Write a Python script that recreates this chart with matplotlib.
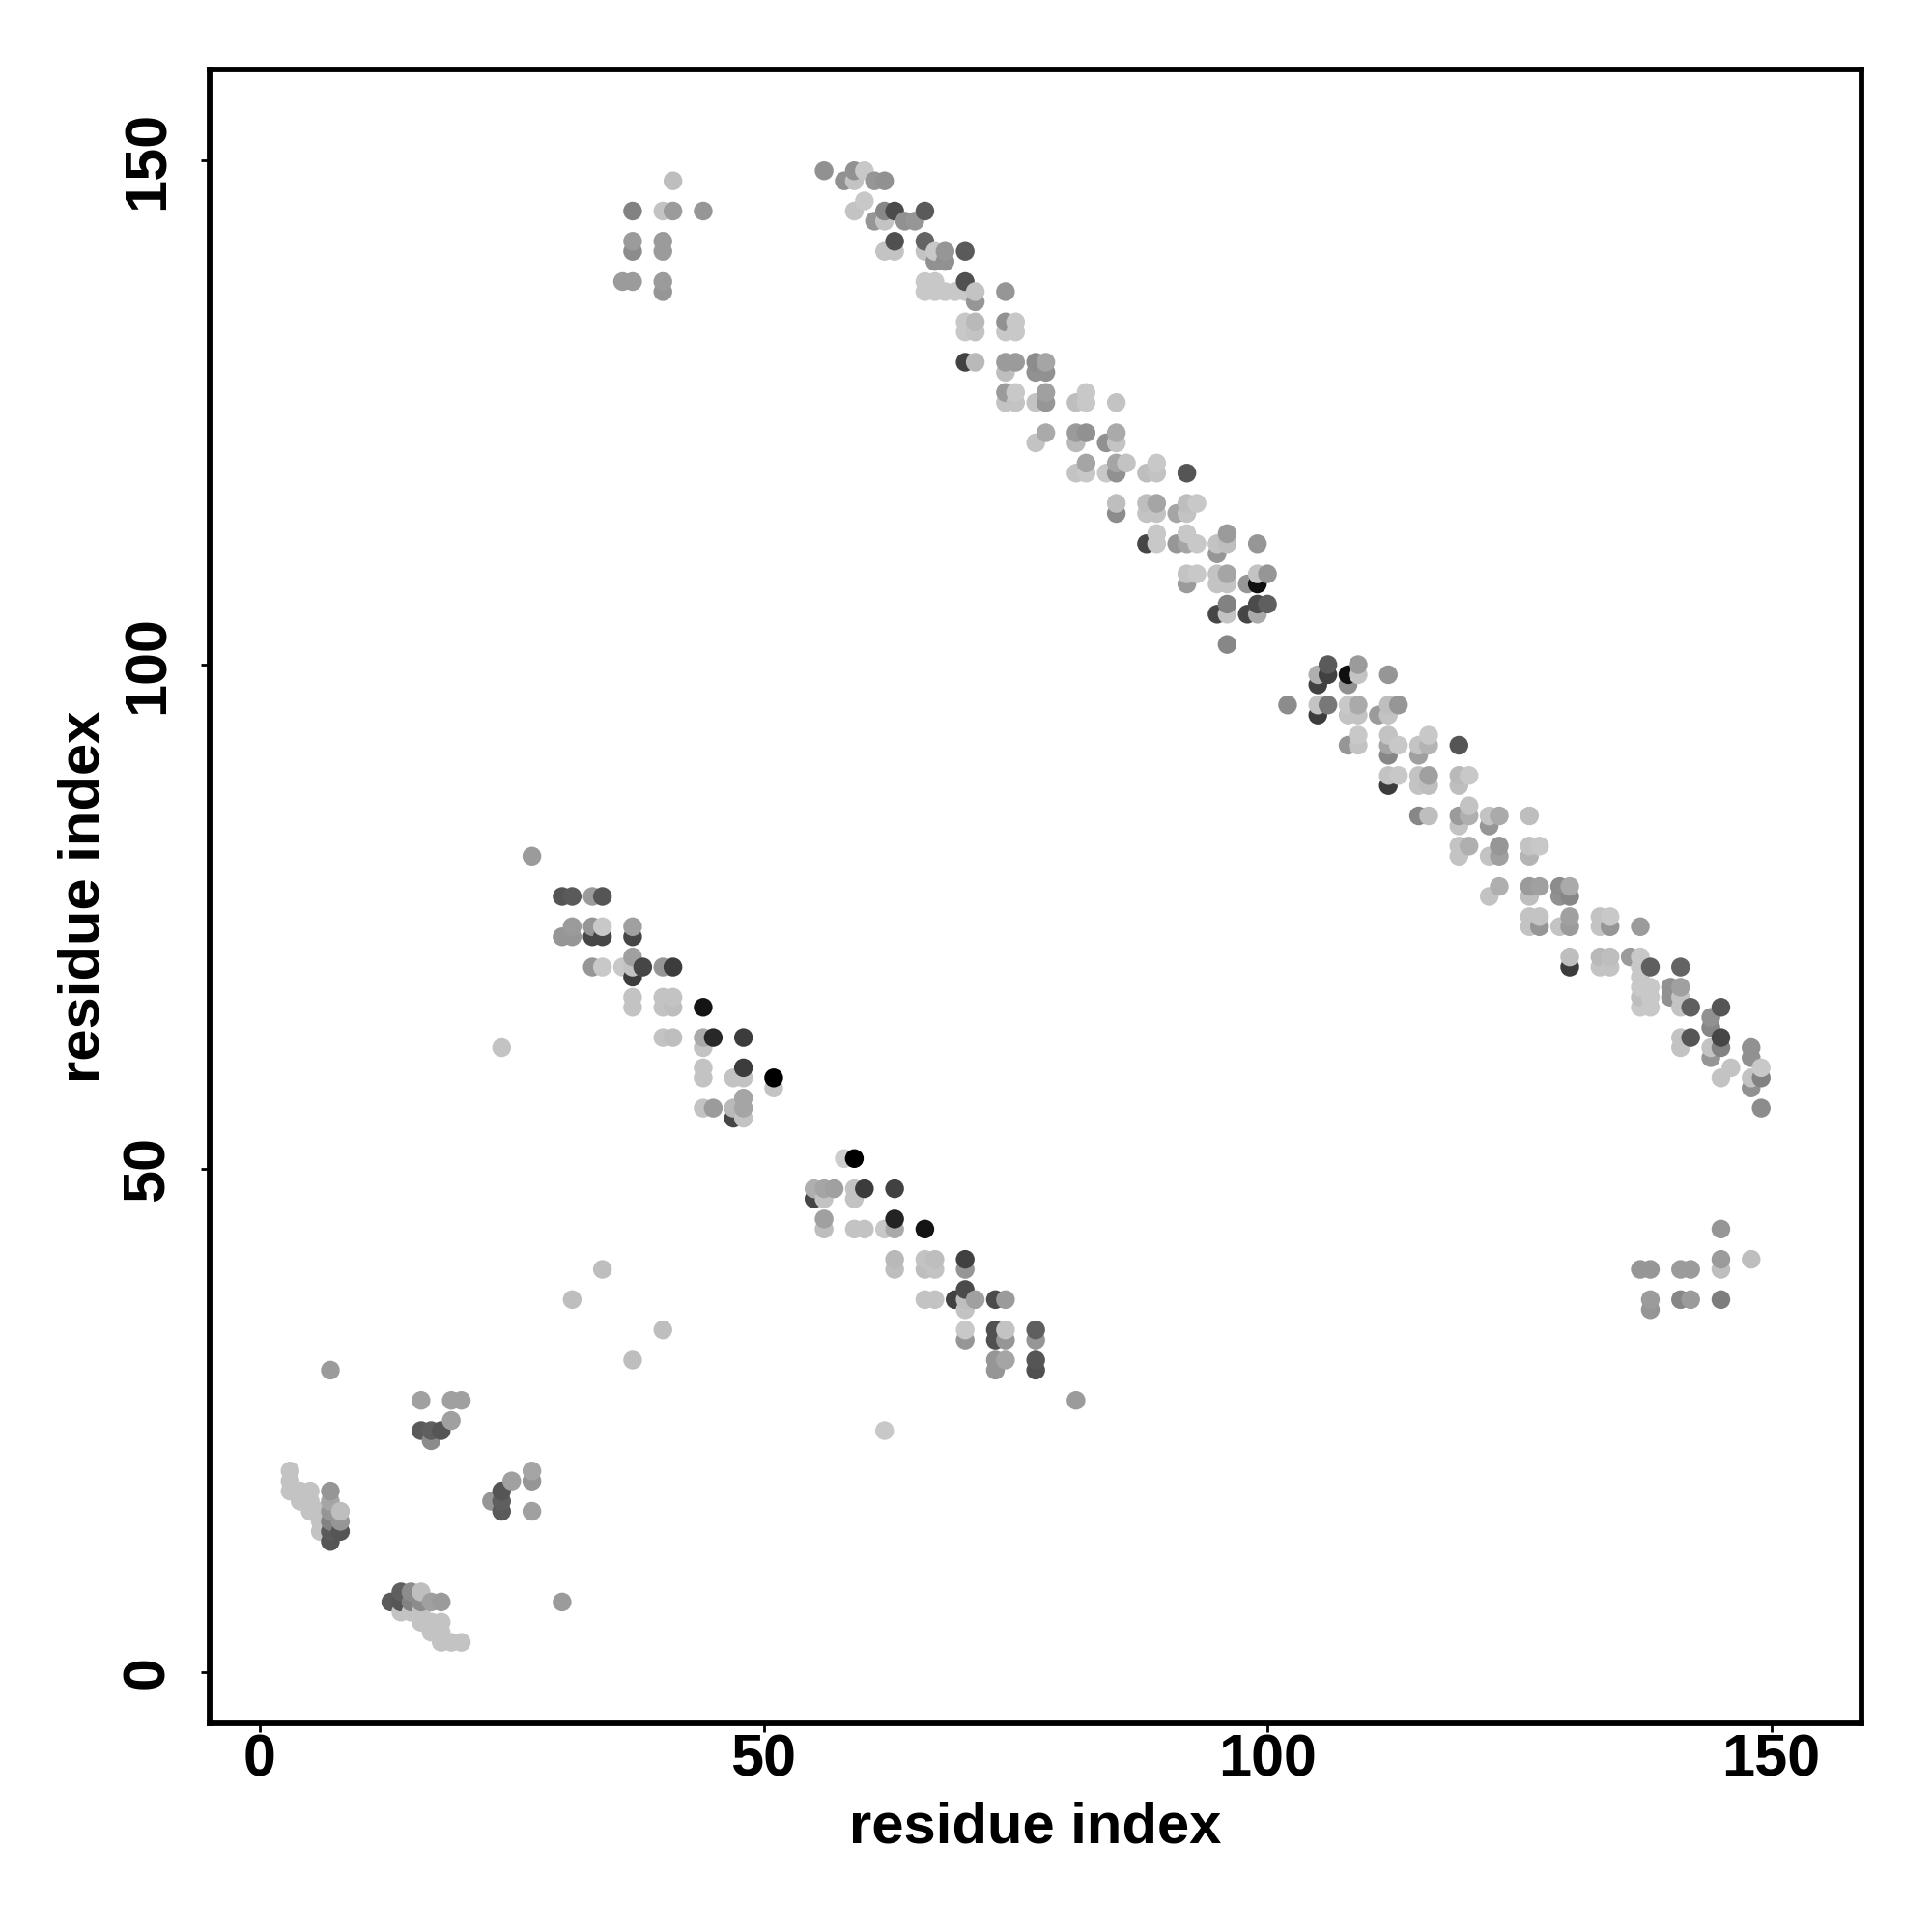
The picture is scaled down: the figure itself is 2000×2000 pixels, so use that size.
import numpy as np
import matplotlib
matplotlib.use("Agg")
import matplotlib.pyplot as plt

plt.rcParams['font.family'] = ['Liberation Sans', 'DejaVu Sans']

# one row per y residue: y, x residues, grey level of each point
row_y = [149, 148, 146, 145, 144, 142, 141, 140, 138, 137, 136, 134, 133, 130, 129, 127, 126, 123, 122, 120, 119,
         116, 115, 113, 112, 111, 109, 108, 106, 105, 102, 100, 99, 98, 96, 95, 93, 92, 91, 89, 88, 86, 85, 84,
         82, 81, 78, 77, 75, 74, 73, 71, 70, 69, 68, 67, 66, 65, 64, 63, 62, 61, 60, 59, 58, 57, 56, 55, 51,
         48, 47, 45, 44, 41, 40, 38, 37, 36, 34, 33, 31, 30, 27, 25, 24, 23, 20, 19, 18, 17, 16, 15, 14, 13,
         8, 7, 6, 5, 4, 3]
row_x = [
    [56, 59, 60],
    [41, 58, 59, 61, 62],
    [60],
    [37, 40, 41, 44, 59, 62, 63, 66],
    [61, 62, 64, 65],
    [37, 40, 63, 66],
    [37, 40, 62, 63, 66, 67, 68, 70],
    [67, 68],
    [36, 37, 40, 66, 67, 70],
    [40, 66, 67, 68, 69, 70, 71, 74],
    [71],
    [70, 71, 74, 75],
    [70, 71, 74, 75],
    [70, 71, 74, 75, 77, 78],
    [74, 77, 78],
    [74, 75, 78, 82],
    [74, 75, 77, 78, 81, 82, 85],
    [78, 81, 82, 85],
    [77, 81, 84, 85],
    [82, 85, 86, 89],
    [81, 82, 84, 85, 88, 89, 92],
    [85, 88, 89, 92, 93],
    [85, 88, 89, 91, 92],
    [89, 92, 96],
    [88, 89, 91, 92, 93, 95, 96, 99],
    [95],
    [92, 93, 95, 96, 99, 100],
    [92, 95, 96, 98, 99],
    [96, 99, 100],
    [95, 96, 98, 99],
    [96],
    [106, 109],
    [105, 106, 108, 109, 112],
    [105, 108],
    [102, 105, 106, 108, 109, 112, 113],
    [105, 108, 109, 111, 112],
    [109, 112, 116],
    [108, 109, 112, 113, 115, 116, 119],
    [112, 115],
    [112, 113, 115, 116, 119, 120],
    [112, 115, 116, 119],
    [120],
    [115, 116, 119, 120, 122, 123, 126],
    [119, 122],
    [119, 120, 123, 126, 127],
    [27, 119, 122, 123, 126],
    [123, 126, 127, 129, 130],
    [30, 31, 33, 34, 122, 126, 129, 130],
    [126, 127, 130, 133, 134],
    [31, 33, 34, 37, 126, 127, 129, 130, 133, 134, 137],
    [30, 31, 33, 34, 37],
    [37, 130, 133, 134, 136, 137],
    [33, 34, 36, 37, 38, 40, 41, 130, 133, 134, 137, 138, 141],
    [37, 137],
    [137, 138, 140, 141],
    [37, 40, 41, 137, 138, 140, 141],
    [37, 40, 41, 44, 137, 138, 141, 142, 145],
    [144],
    [144],
    [40, 41, 44, 45, 48, 141, 142, 145],
    [24, 44, 141, 144, 145, 148],
    [144, 148],
    [44, 48, 146, 149],
    [44, 47, 48, 51, 145, 148, 149],
    [51, 148],
    [48],
    [44, 45, 47, 48, 149],
    [47, 48],
    [58, 59],
    [55, 56, 57, 59, 60, 63],
    [55, 56, 59],
    [56, 63],
    [56, 59, 60, 62, 63, 66, 145],
    [63, 66, 67, 70, 145, 148],
    [34, 63, 66, 67, 70, 137, 138, 141, 142, 145],
    [70],
    [31, 66, 67, 69, 70, 71, 73, 74, 138, 141, 142, 145],
    [70, 138],
    [40, 70, 73, 74, 77],
    [70, 73, 74, 77],
    [37, 73, 74, 77],
    [7, 73, 77],
    [16, 19, 20, 81],
    [19],
    [16, 17, 18, 62],
    [17],
    [3, 27],
    [3, 25, 27],
    [3, 4, 5, 7, 24],
    [4, 5, 7, 23, 24],
    [5, 6, 7, 8, 24, 27],
    [6, 7, 8],
    [6, 7, 8],
    [7],
    [14, 15, 16],
    [13, 14, 15, 16, 17, 18, 30],
    [14, 15, 16],
    [16, 17, 18],
    [17, 18],
    [18, 19, 20],
]
row_shade = [
    [145, 145, 200],
    [190, 145, 195, 150, 145],
    [200],
    [130, 195, 155, 150, 195, 135, 75, 90],
    [150, 195, 145, 150],
    [155, 155, 80, 100],
    [140, 155, 195, 195, 195, 200, 150, 90],
    [145, 145],
    [155, 155, 155, 200, 200, 80],
    [150, 200, 200, 200, 200, 200, 195, 150],
    [150],
    [200, 185, 145, 200],
    [200, 195, 200, 200],
    [65, 185, 155, 155, 140, 165],
    [190, 145, 145],
    [155, 200, 160, 200],
    [195, 195, 195, 150, 190, 200, 195],
    [170, 155, 145, 170],
    [195, 185, 145, 195],
    [165, 165, 195, 200],
    [195, 200, 200, 145, 190, 195, 85],
    [190, 190, 165, 190, 200],
    [140, 195, 195, 165, 195],
    [200, 200, 155],
    [70, 200, 150, 165, 200, 195, 190, 150],
    [150],
    [195, 200, 195, 165, 195, 150],
    [155, 195, 195, 150, 15],
    [130, 75, 95],
    [70, 195, 70, 170],
    [135],
    [90, 155],
    [175, 65, 15, 195, 150],
    [65, 145],
    [140, 195, 120, 200, 170, 190, 150],
    [60, 195, 195, 155, 195],
    [200, 195, 200],
    [150, 195, 165, 200, 195, 180, 85],
    [135, 160],
    [195, 200, 195, 160, 185, 200],
    [60, 195, 190, 190],
    [195],
    [135, 190, 155, 175, 195, 170, 190],
    [195, 150],
    [195, 175, 150, 195, 200],
    [155, 195, 195, 160, 180],
    [175, 155, 160, 140, 170],
    [85, 90, 155, 85, 195, 190, 145, 135],
    [195, 195, 160, 195, 200],
    [155, 150, 200, 160, 195, 150, 195, 155, 195, 150, 155],
    [150, 150, 70, 70, 70],
    [160, 190, 185, 190, 155, 200],
    [150, 200, 200, 195, 70, 150, 60, 60, 195, 195, 200, 95, 100],
    [60, 200],
    [200, 200, 145, 160],
    [195, 195, 195, 190, 200, 145, 195],
    [195, 195, 190, 20, 200, 200, 195, 95, 85],
    [145],
    [135],
    [195, 190, 170, 40, 60, 195, 85, 70],
    [195, 195, 195, 195, 130, 145],
    [150, 145],
    [195, 60, 195, 200],
    [195, 195, 195, 0, 195, 195, 130],
    [195, 145],
    [165],
    [195, 155, 185, 165, 140],
    [70, 195],
    [205, 0],
    [175, 165, 160, 195, 60, 65],
    [70, 195, 195],
    [160, 35],
    [190, 195, 195, 200, 170, 20, 150],
    [185, 195, 190, 65, 155, 190],
    [190, 190, 190, 195, 150, 150, 150, 155, 155, 190],
    [75],
    [190, 195, 195, 65, 190, 160, 75, 155, 155, 135, 155, 125],
    [195, 150],
    [190, 200, 80, 195, 95],
    [150, 80, 150, 150],
    [190, 150, 165, 85],
    [155, 150, 80],
    [160, 160, 160, 155],
    [160],
    [90, 95, 85, 200],
    [140],
    [195, 165],
    [195, 160, 150],
    [195, 195, 195, 150, 85],
    [195, 195, 165, 150, 95],
    [195, 195, 150, 190, 90, 160],
    [195, 130, 150],
    [195, 90, 85],
    [85],
    [95, 140, 190],
    [90, 85, 130, 140, 160, 155, 155],
    [195, 195, 195],
    [195, 195, 195],
    [195, 195],
    [195, 195, 195],
]
x_ticks = [0, 50, 100, 150]
y_ticks = [0, 50, 100, 150]
axis_label = "residue index"

res_x = np.concatenate(row_x)
res_y = np.repeat(row_y, [len(r) for r in row_x])
shade = np.concatenate(row_shade)
# points are stacked left to right, bottom to top
order = np.lexsort((res_y, res_x))

fig = plt.figure(figsize=(10, 10), dpi=200)
ax = fig.add_axes([0.10825, 0.1082, 0.8553, 0.8556])
ax.scatter(res_x[order], res_y[order], c=shade[order], cmap="gray", vmin=0, vmax=255,
           s=49, linewidths=0, clip_on=False)
ax.set_xlim(-5.03, 158.96)
ax.set_ylim(-5, 159)
ax.set_xticks(x_ticks)
ax.set_yticks(y_ticks)
ax.tick_params(length=3.3, width=1, labelsize=22)
ax.tick_params(axis="x", pad=0.6)
ax.tick_params(axis="y", pad=9)
for lab in ax.get_xticklabels() + ax.get_yticklabels():
    lab.set_fontweight("bold")
for lab in ax.get_yticklabels():
    lab.set_rotation(90)
    lab.set_va("center")
for s in ax.spines.values():
    s.set_linewidth(2.1)
ax.set_xlabel(axis_label, fontsize=21.5, fontweight="bold")
ax.set_ylabel(axis_label, fontsize=21.5, fontweight="bold")
ax.xaxis.set_label_coords(0.5, -0.047)
ax.yaxis.set_label_coords(-0.0595, 0.5)

fig.savefig("out.png")
